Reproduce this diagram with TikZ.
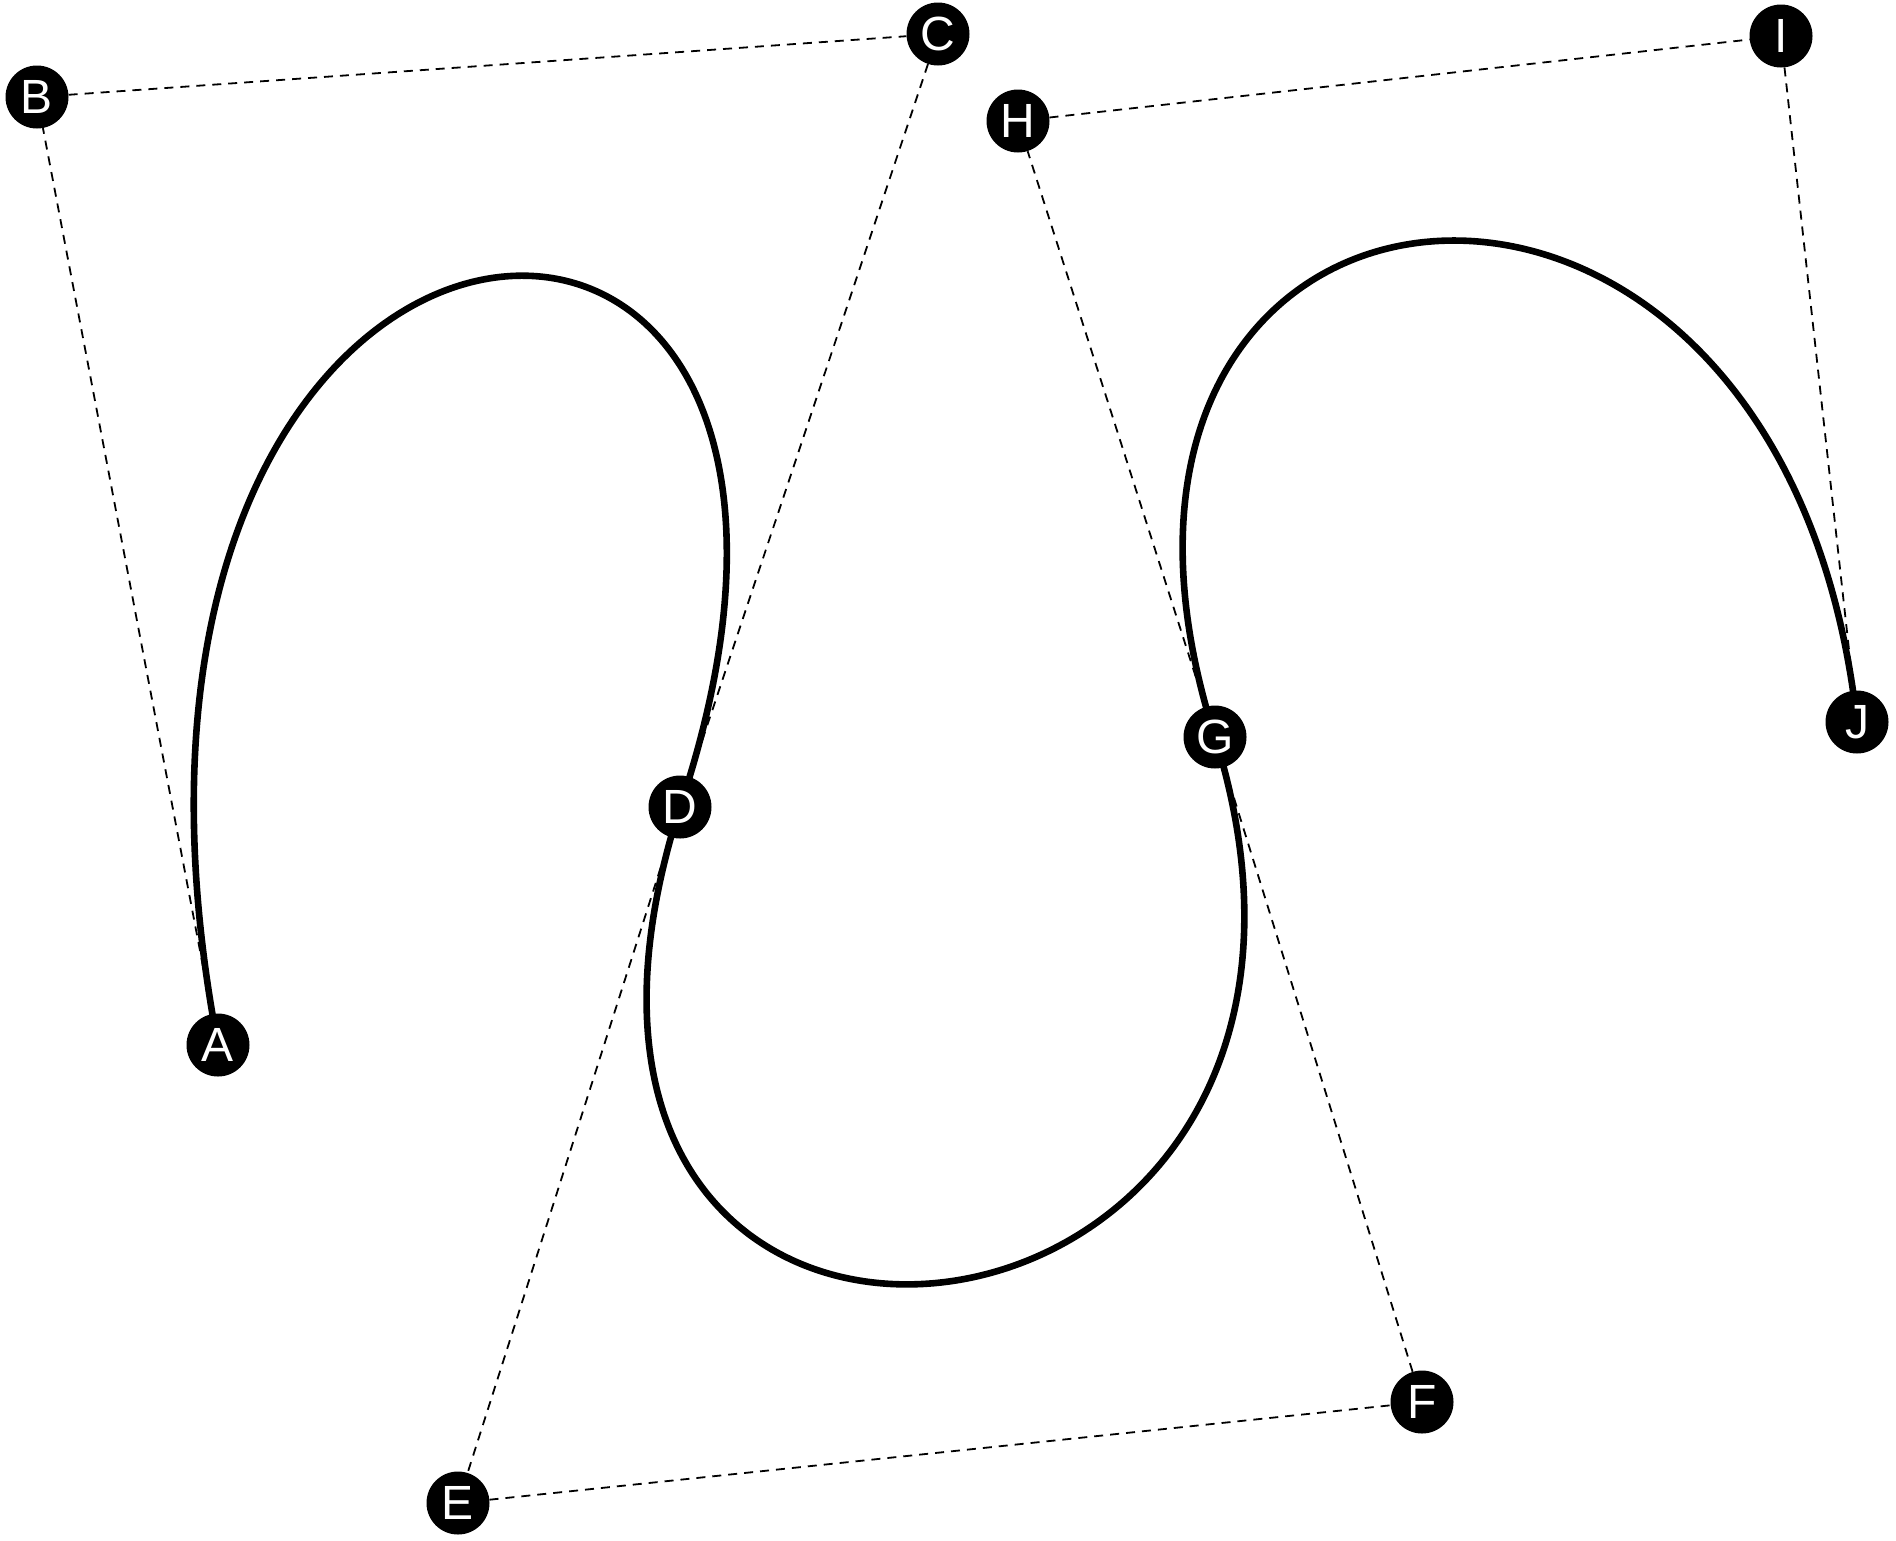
\documentclass[tikz,border=0pt]{standalone}
\usepackage{fontspec}
\setmainfont{Liberation Sans}
\usetikzlibrary{backgrounds}
\begin{document}
\begin{tikzpicture}[x=1pt,y=-1pt,
  pt/.style={circle,fill=black,draw=none,minimum size=63pt,inner sep=0pt,
    text=white,font=\fontsize{48}{48}\selectfont},
  ctrl/.style={dashed,line width=1.8pt,dash pattern=on 9pt off 7pt,black},
  curve/.style={line width=6.6pt,black}]
\useasboundingbox (0,0) rectangle (1896,1540);
\node[pt] (A) at (218,1045) {A};
\node[pt] (B) at (37,97) {B};
\node[pt] (C) at (938,34) {C};
\node[pt] (D) at (680,807) {D};
\node[pt] (E) at (458,1503) {E};
\node[pt] (F) at (1422,1402) {F};
\node[pt] (G) at (1215,737) {G};
\node[pt] (H) at (1018,121) {H};
\node[pt] (I) at (1781,36) {I};
\node[pt] (J) at (1857,722) {J};
\begin{pgfonlayer}{background}
\draw[ctrl] (A) -- (B);
\draw[ctrl] (B) -- (C);
\draw[ctrl] (C) -- (D);
\draw[ctrl] (D) -- (E);
\draw[ctrl] (E) -- (F);
\draw[ctrl] (F) -- (G);
\draw[ctrl] (G) -- (H);
\draw[ctrl] (H) -- (I);
\draw[ctrl] (I) -- (J);
\draw[curve] (A.center) .. controls (B.center) and (C.center) .. (D.center)
  .. controls (E.center) and (F.center) .. (G.center)
  .. controls (H.center) and (I.center) .. (J.center);
\end{pgfonlayer}
\end{tikzpicture}
\end{document}
